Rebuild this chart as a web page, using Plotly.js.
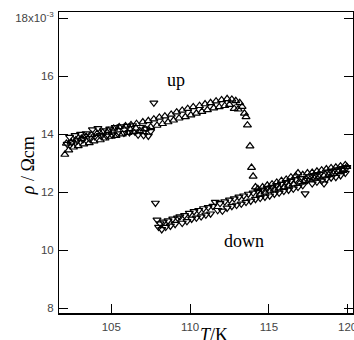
<!DOCTYPE html>
<html>
<head>
<meta charset="utf-8">
<script src="https://cdn.plot.ly/plotly-3.0.1.min.js"></script>
<style>html,body{margin:0;padding:0;background:#fff;}#chart{width:354px;height:340px;}</style>
</head>
<body>
<div id="chart"></div>
<script>
// Temperature (K) and resistivity (x10^-3 Ohm cm)
const upT = [102.05,102.15,102.3,102.45,102.6,102.75,102.9,103.1,103.25,103.4,103.6,103.75,103.9,104.1,104.3,104.45,104.6,104.8,105.0,105.15,105.3,105.5,105.7,105.9,106.05,106.25,106.4,106.6,106.8,107.0,107.15,107.35,107.5,107.7,107.9,108.05,108.25,108.4,108.6,108.8,108.95,109.15,109.3,109.5,109.7,109.85,110.05,110.2,110.4,110.6,110.75,110.95,111.1,111.3,111.5,111.65,111.85,112.0,112.2,112.35,112.5,112.65,112.8,112.9,113.05,113.15,113.3,113.45,113.55,113.64,113.8,113.9,114.0,114.15,
  114.3,114.45,114.6,114.75,114.9,115.05,115.2,115.35,115.5,115.65,115.8,115.95,116.1,116.25,116.4,116.55,116.7,116.85,117.0,117.15,117.3,117.45,117.6,117.75,117.9,118.05,118.2,118.35,118.5,118.65,118.8,118.95,119.1,119.25,119.4,119.55,119.7,119.85,119.95];
const upRho = [13.30,13.68,13.45,13.72,13.55,13.80,13.60,13.85,13.66,13.92,13.70,13.98,13.76,14.02,13.80,14.06,13.86,14.12,13.92,14.20,13.95,14.25,14.00,14.28,14.05,14.32,14.08,14.36,14.12,14.42,14.18,14.46,14.25,14.52,14.30,14.58,14.36,14.62,14.42,14.68,14.48,14.76,14.55,14.82,14.60,14.88,14.66,14.94,14.72,14.98,14.78,15.04,14.84,15.08,14.90,15.14,14.94,15.18,14.98,15.22,15.02,15.20,14.88,15.15,14.86,15.08,14.95,14.72,14.60,14.31,13.59,12.85,12.55,12.18,
  12.12,11.94,12.18,12.00,12.24,12.06,12.28,12.10,12.34,12.14,12.40,12.18,12.44,12.24,12.52,12.28,12.56,12.66,12.34,12.60,12.40,12.66,12.44,12.68,12.48,12.72,12.52,12.76,12.56,12.80,12.60,12.84,12.64,12.86,12.70,12.90,12.74,12.94,12.88];

const downT = [102.2,102.35,102.5,102.7,102.85,103.05,103.2,103.4,103.6,103.8,103.95,104.15,104.3,104.5,104.7,104.9,105.05,105.25,105.4,105.6,105.8,106.0,106.15,106.35,106.5,106.7,106.85,107.05,107.2,107.35,107.5,107.7,107.8,107.9,108.0,
  108.1,108.2,108.3,108.45,108.6,108.75,108.9,109.05,109.2,109.35,109.5,109.65,109.8,109.95,110.1,110.25,110.4,110.55,110.7,110.85,111.0,111.15,111.3,111.45,111.6,111.75,111.9,112.05,112.2,112.35,112.5,112.65,112.8,112.95,113.1,113.25,113.4,113.55,113.7,113.85,114.0,114.15,114.3,114.45,114.6,114.75,114.9,115.05,115.2,115.35,115.5,115.65,115.8,115.95,116.1,116.25,116.4,116.55,116.7,116.85,117.0,117.15,117.3,117.45,117.6,117.75,117.9,118.05,118.2,118.35,118.5,118.65,118.8,118.95,119.1,119.25,119.4,119.55,119.7,119.85,119.95];
const downRho = [13.66,13.90,13.72,13.96,13.78,14.00,13.82,14.02,13.86,14.16,13.92,14.20,13.96,14.12,13.94,14.18,13.98,14.24,14.02,14.26,14.04,14.28,14.06,14.30,14.08,13.98,14.24,13.96,14.18,13.94,14.10,15.08,11.63,11.05,10.80,
  10.92,10.72,10.98,10.80,11.02,10.84,11.08,10.90,11.12,11.16,10.94,11.20,11.00,11.28,11.08,11.34,11.12,11.38,11.16,11.44,11.22,11.48,11.26,11.52,11.66,11.38,11.62,11.36,11.68,11.46,11.74,11.52,11.78,11.56,11.84,11.60,11.88,11.66,11.94,11.70,11.98,11.76,12.04,11.80,12.08,11.84,12.14,11.88,12.18,11.94,12.24,11.98,12.28,12.04,12.34,12.08,12.38,12.12,12.44,12.18,12.48,12.24,11.95,12.42,12.54,12.30,12.58,12.36,12.62,12.40,12.30,12.46,12.70,12.50,12.74,12.52,12.78,12.58,12.82,12.66,12.86];

const xTicks = [105, 110, 115, 120];
const yTicks = [8, 10, 12, 14, 16, 18];
const yTickText = ['8', '10', '12', '14', '16', '18x10<sup>-3</sup>'];

const markerBase = {size: 7, color: '#000', line: {color: '#000', width: 1.2}};

const traces = [
  {x: upT, y: upRho, mode: 'markers', type: 'scatter', name: 'up',
   marker: Object.assign({symbol: 'triangle-up-open'}, markerBase)},
  {x: downT, y: downRho, mode: 'markers', type: 'scatter', name: 'down',
   marker: Object.assign({symbol: 'triangle-down-open'}, markerBase)}
];

const tickFont = {family: '"Liberation Sans", Arial, sans-serif', size: 11.5, color: '#444'};
const serif = '"Liberation Serif", "Times New Roman", serif';

const layout = {
  width: 354, height: 340,
  margin: {l: 59, r: 1, t: 12, b: 27},
  paper_bgcolor: '#fff', plot_bgcolor: '#fff',
  showlegend: false,
  xaxis: {
    range: [101.68, 120.34], tickvals: xTicks, ticktext: xTicks.map(String),
    ticks: 'inside', ticklen: 9, tickwidth: 1, tickcolor: '#000',
    showline: true, linecolor: '#000', linewidth: 1.5, mirror: true,
    showgrid: false, zeroline: false, tickfont: tickFont,
    ticklabeloverflow: 'allow', ticklabelstandoff: 3
  },
  yaxis: {
    range: [7.84, 18.21], tickvals: yTicks, ticktext: yTickText,
    ticks: 'inside', ticklen: 9, tickwidth: 1, tickcolor: '#000',
    showline: true, linecolor: '#000', linewidth: 1, mirror: 'ticks',
    showgrid: false, zeroline: false, tickfont: tickFont,
    ticklabeloverflow: 'allow', ticklabelstandoff: 2
  },
  annotations: [
    {text: 'up', x: 109.09, y: 15.86, xref: 'x', yref: 'y', showarrow: false,
     font: {family: serif, size: 18, color: '#000'}},
    {text: 'down', x: 113.42, y: 10.31, xref: 'x', yref: 'y', showarrow: false,
     font: {family: serif, size: 18, color: '#000'}},
    {text: '<i>ρ</i> / Ωcm', xref: 'paper', yref: 'paper', x: -0.105, y: 0.488,
     textangle: -90, showarrow: false, xanchor: 'center', yanchor: 'middle',
     font: {family: serif, size: 18, color: '#000'}},
    {text: '<i>T</i>/K', xref: 'paper', yref: 'paper', x: 0.527, y: -0.033,
     showarrow: false, xanchor: 'center', yanchor: 'top',
     font: {family: serif, size: 18, color: '#000'}}
  ]
};

Plotly.newPlot('chart', traces, layout, {displayModeBar: false, staticPlot: true});
</script>
</body>
</html>
